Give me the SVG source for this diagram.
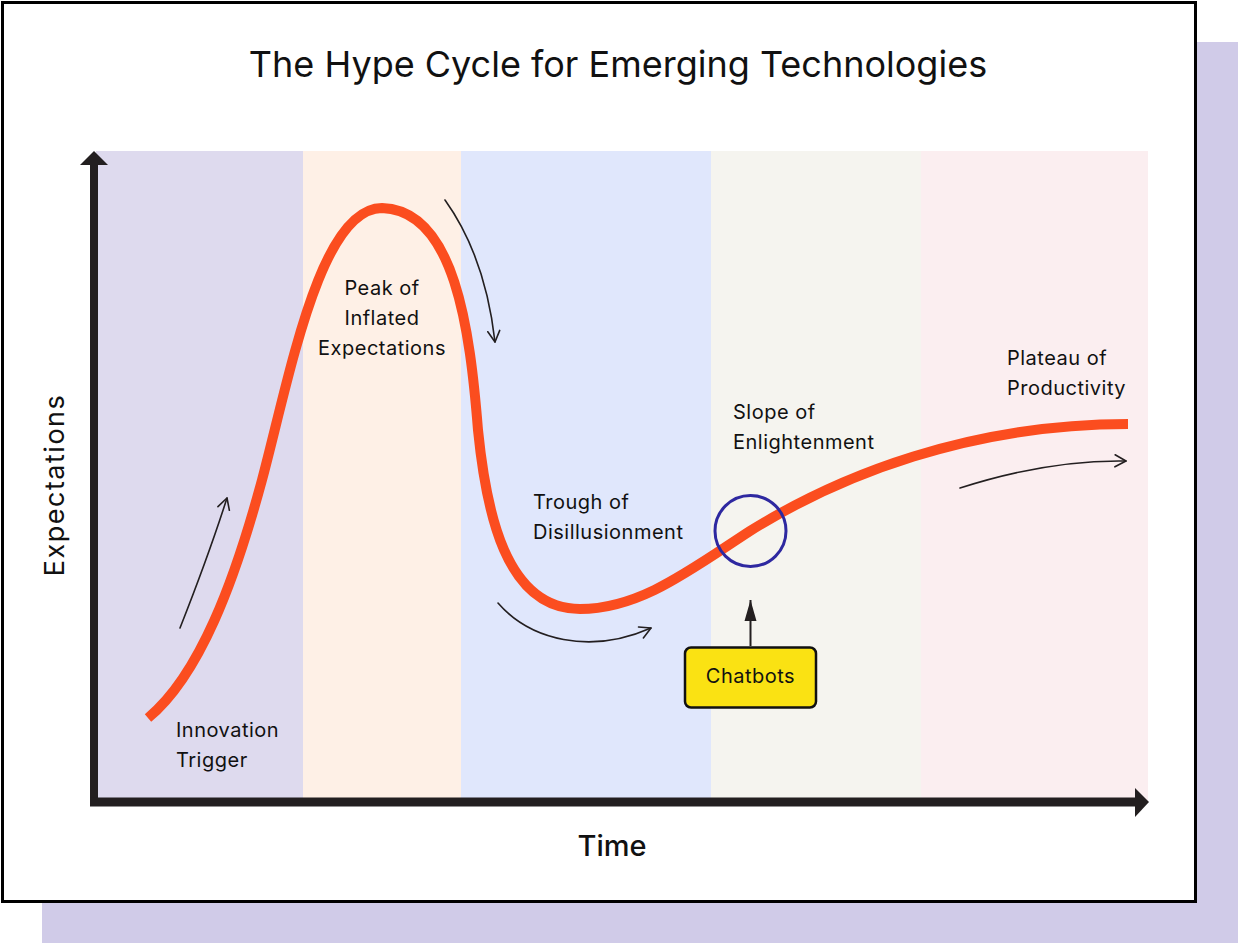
<svg xmlns="http://www.w3.org/2000/svg" width="1238" height="943" viewBox="0 0 1238 943">
  <defs>
    <style>
      .lbl { font-family: Inter, "Liberation Sans", sans-serif; font-size: 20px; letter-spacing: 0.5px; fill: #111111; }
      .ttl { font-family: Inter, "Liberation Sans", sans-serif; font-size: 36px; fill: #111111; }
      .axl { font-family: Inter, "Liberation Sans", sans-serif; fill: #111111; }
      .hint { fill: none; stroke: #231F20; stroke-width: 1.6; stroke-linecap: round; }
      .axis { stroke: #231F20; fill: none; }
    </style>
    <marker id="chev" markerUnits="userSpaceOnUse" markerWidth="20" markerHeight="20" refX="0" refY="0" viewBox="-12 -10 14 20" orient="auto">
      <path d="M -11 -6 L 0 0 L -11 6" fill="none" stroke="#231F20" stroke-width="1.6" stroke-linecap="round" stroke-linejoin="round"/>
    </marker>
    <marker id="tri" markerUnits="userSpaceOnUse" markerWidth="24" markerHeight="24" refX="0" refY="0" viewBox="-22 -8 24 16" orient="auto">
      <path d="M -21 -6 L 0 0 L -21 6 Z" fill="#231F20"/>
    </marker>
  </defs>

  <!-- shadow and card -->
  <rect x="42" y="42" width="1196" height="901" fill="#D0CBE8"/>
  <rect x="2.5" y="2.5" width="1193" height="899" fill="#FFFFFF" stroke="#000000" stroke-width="3"/>

  <g id="title">
    <text class="ttl" x="618" y="77" text-anchor="middle">The Hype Cycle for Emerging Technologies</text>
  </g>

  <!-- phase bands -->
  <g id="bands">
    <rect x="96" y="151" width="207" height="651" fill="#DEDAEE"/>
    <rect x="303" y="151" width="158" height="651" fill="#FEF0E6"/>
    <rect x="461" y="151" width="250" height="651" fill="#E0E7FC"/>
    <rect x="711" y="151" width="210" height="651" fill="#F5F4EF"/>
    <rect x="921" y="151" width="227" height="651" fill="#FBEEF0"/>
  </g>

  <!-- axes -->
  <g id="axes">
    <line class="axis" x1="94" y1="806" x2="94" y2="163" stroke-width="8"/>
    <polygon points="80,165 94,151 108,165" fill="#231F20"/>
    <line class="axis" x1="90" y1="802" x2="1137" y2="802" stroke-width="9"/>
    <polygon points="1135,788 1149,802 1135,817" fill="#231F20"/>
    <text class="axl" font-size="27" letter-spacing="1.5" transform="translate(64,485) rotate(-90)" text-anchor="middle">Expectations</text>
    <text class="axl" font-size="29" font-weight="500" x="612" y="856" text-anchor="middle">Time</text>
  </g>

  <!-- hype curve -->
  <g id="hype-curve">
    <path d="M148,718 C200,675 235,580 262,480 C290,375 320,208 382,208 C455,210 470,330 478,430 C486,510 505,609 580,609 C640,609 690,570 750,531 C840,475 970,424 1128,424" fill="none" stroke="#FB4D1F" stroke-width="10"/>
  </g>

  <!-- phase labels -->
  <g id="innovation-trigger">
    <text class="lbl" x="176" y="737">Innovation</text>
    <text class="lbl" x="176" y="767">Trigger</text>
  </g>
  <g id="peak-of-inflated-expectations">
    <text class="lbl" x="382" y="295" text-anchor="middle">Peak of</text>
    <text class="lbl" x="382" y="325" text-anchor="middle">Inflated</text>
    <text class="lbl" x="382" y="355" text-anchor="middle">Expectations</text>
  </g>
  <g id="trough-of-disillusionment">
    <text class="lbl" x="533" y="509">Trough of</text>
    <text class="lbl" x="533" y="539">Disillusionment</text>
  </g>
  <g id="slope-of-enlightenment">
    <text class="lbl" x="733" y="419">Slope of</text>
    <text class="lbl" x="733" y="449">Enlightenment</text>
  </g>
  <g id="plateau-of-productivity">
    <text class="lbl" x="1007" y="365">Plateau of</text>
    <text class="lbl" x="1007" y="395">Productivity</text>
  </g>

  <!-- highlight circle -->
  <g id="chatbots-marker">
    <circle cx="750.5" cy="531" r="35.5" fill="none" stroke="#2E28A0" stroke-width="3"/>
  </g>

  <!-- chatbots node -->
  <g id="chatbots">
    <rect x="685" y="647.5" width="131" height="60" rx="6" fill="#FAE213" stroke="#111111" stroke-width="2.5"/>
    <text class="lbl" x="750.5" y="683" text-anchor="middle" font-size="21.5">Chatbots</text>
  </g>

  <!-- connectors -->
  <g id="connectors">
    <path class="hint" d="M180,628 C195,590 212,545 227,498" marker-end="url(#chev)"/>
    <path class="hint" d="M445,200 C470,235 488,280 495,342" marker-end="url(#chev)"/>
    <path class="hint" d="M498,603 C530,640 590,655 651,628" marker-end="url(#chev)"/>
    <path class="hint" d="M960,488 C1010,472 1070,460 1126,461" marker-end="url(#chev)"/>
    <line x1="750.5" y1="646" x2="750.5" y2="600" stroke="#231F20" stroke-width="2" marker-end="url(#tri)"/>
  </g>
</svg>
